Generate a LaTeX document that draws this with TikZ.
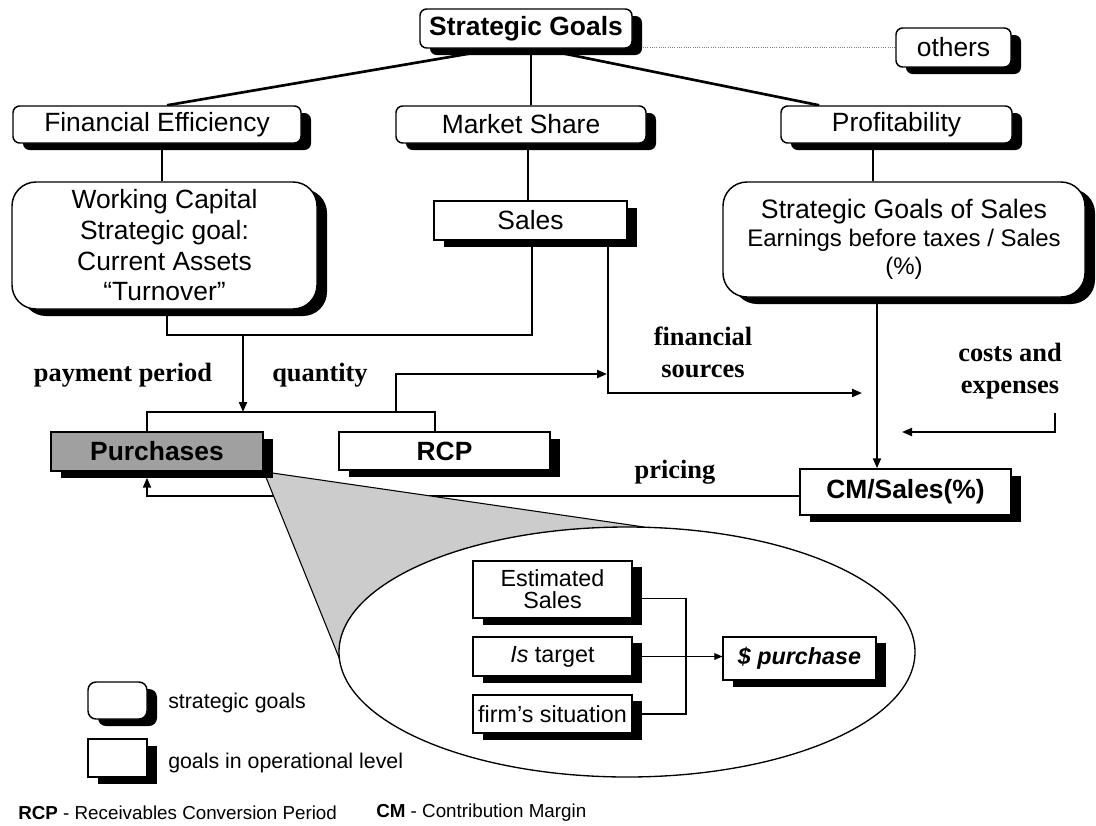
\documentclass[tikz,border=0pt]{standalone}
\usepackage{fontspec}
\setmainfont{Liberation Serif}
\setsansfont{Liberation Sans}
\usetikzlibrary{shadows,arrows.meta,calc,backgrounds}
\definecolor{purgray}{HTML}{A0A0A0}
\definecolor{fgray}{HTML}{CCCCCC}
\tikzset{
  shad/.style={drop shadow={shadow xshift=7.5pt,shadow yshift=-5.25pt,fill=black,opacity=1}},
  box/.style={draw, line width=1.1pt, fill=white, shad, inner sep=0pt, align=center, font=\sffamily\fontsize{19.8}{23}\selectfont},
  bbox/.style={box, font=\sffamily\bfseries\fontsize{19.8}{23}\selectfont},
  rbox/.style={box, rounded corners=5pt},
  bigr/.style={box, rounded corners=18pt},
  ibox/.style={box, line width=0.9pt, drop shadow={shadow xshift=7.5pt,shadow yshift=-4.5pt,fill=black,opacity=1}, font=\sffamily\fontsize{17.5}{16.5}\selectfont},
  conn/.style={line width=1.5pt},
  fineline/.style={line width=0.8pt},
  arr/.style={-{Triangle[length=7.5pt,width=6pt]}},
  lab/.style={font=\rmfamily\bfseries\fontsize{19.8}{24}\selectfont, align=center, inner sep=0pt},
  legtxt/.style={anchor=west, inner sep=0pt, font=\sffamily\fontsize{16}{18}\selectfont},
  foot/.style={anchor=west, inner sep=0pt, font=\sffamily\fontsize{14.1}{16}\selectfont},
}
\begin{document}
\begin{tikzpicture}[x=0.75pt,y=-0.75pt]
\useasboundingbox (0,0) rectangle (1096,825);

% top level
\node[rbox, font=\sffamily\bfseries\fontsize{19.8}{23}\selectfont, minimum width=159pt, minimum height=29.25pt] (sg) at (526,28.5) {Strategic Goals};
\node[rbox, minimum width=86.25pt, minimum height=29.25pt] (oth) at (953.5,47.5) {others};
\node[rbox, minimum width=216pt, minimum height=27.75pt] (fe) at (157,124.5) {Financial Efficiency};
\node[rbox, minimum width=187.5pt, minimum height=27.75pt] (ms) at (521,124.5) {Market Share};
\node[rbox, minimum width=173.25pt, minimum height=27.75pt] (prof) at (896.5,124.5) {Profitability};

% second level
\node[bigr, minimum width=228.75pt, minimum height=95.25pt] (wc) at (164.5,245.5) {Working Capital\\Strategic goal:\\Current Assets\\“Turnover”};
\node[box, minimum width=144.75pt, minimum height=29.25pt] (sales) at (530.5,220.5) {Sales};
\node[bigr, minimum width=271.5pt, minimum height=86.25pt, font=\sffamily\fontsize{18}{21}\selectfont] (sgs) at (904,239.5) {{\fontsize{20}{21}\selectfont Strategic Goals of Sales}\\Earnings before taxes / Sales\\(\%)};

% operational
\node[bbox, fill=purgray, minimum width=159pt, minimum height=29.25pt] (purch) at (157,451.5) {Purchases};
\node[bbox, minimum width=158.25pt, minimum height=28.5pt] (rcp) at (444.5,451) {RCP};
\node[bbox, minimum width=158.25pt, minimum height=34.5pt] (cm) at (905.5,492) {CM/Sales(\%)};

% labels
\node[lab] (lpp) at (123,375) {payment period};
\node[lab] (lq) at (320,375) {quantity};
\node[lab] (lfs) at (703,352) {financial\\sources};
\node[lab] (lce) at (1010,371) {costs and\\expenses};
\node[lab] (lpr) at (675,472) {pricing};

% inner boxes
\node[ibox, minimum width=119.25pt, minimum height=42.75pt] (es) at (552.5,589.5) {Estimated\\Sales};
\node[ibox, minimum width=119.25pt, minimum height=29.25pt] (ist) at (552.5,656.5) {\textit{Is} target};
\node[ibox, minimum width=119.25pt, minimum height=28.5pt] (firm) at (552.5,714) {firm’s situation};
\node[ibox, minimum width=114.75pt, minimum height=32.25pt, font=\sffamily\bfseries\itshape\fontsize{17.5}{15}\selectfont] (pur) at (799.5,658.5) {\$ purchase};

% legend
\node[box, rounded corners=6pt, minimum width=44.25pt, minimum height=27.75pt] (lg1) at (117.5,700.5) {};
\node[box, minimum width=44.25pt, minimum height=28.5pt] (lg2) at (117.5,758) {};
\node[legtxt] (lt1) at (168,703) {strategic goals};
\node[legtxt] (lt2) at (168,763) {goals in operational level};

% footer
\node[foot] (f1) at (18,813) {\textbf{RCP} - Receivables Conversion Period};
\node[foot] (f2) at (376,813) {\textbf{CM} - Contribution Margin};

\begin{pgfonlayer}{background}
  \draw[densely dotted, gray, line width=0.7pt] (oth.west) -- (oth.west -| sg.east);
  \draw[line width=2pt] ([xshift=-21pt]sg.south) -- ([xshift=7.5pt]fe.north);
  \draw[line width=2pt] ([xshift=3.75pt]sg.south) -- ([xshift=3.75pt]sg.south |- ms.north);
  \draw[line width=2pt] ([xshift=10.5pt]sg.south) -- ([xshift=-58pt]prof.north);
  \draw[conn] ([xshift=3.75pt]fe.south) -- ([xshift=3.75pt]fe.south |- wc.north);
  \draw[conn] ([xshift=5.25pt]ms.south) -- ([xshift=5.25pt]ms.south |- sales.north);
  \draw[conn] ([xshift=-17.6pt]prof.south) -- ([xshift=-17.6pt]prof.south |- sgs.north);
  \coordinate (split) at (243,335);
  \coordinate (brc) at (243,412);
  \draw[conn] ([xshift=2pt]wc.south) |- (split) -| ([xshift=1pt]sales.south);
  \draw[conn, arr] (split) -- (brc);
  \draw[conn] ([xshift=-7.5pt]purch.north) |- (brc) -| ([xshift=-7pt]rcp.north);
  \coordinate (q0) at (396,412);
  \coordinate (q1) at (607,374);
  \draw[conn, arr] (q0) |- (q1);
  \coordinate (fsx) at (862,393);
  \draw[conn, arr] ([xshift=-15pt]sales.south east) |- (fsx);
  \draw[conn, arr] ([xshift=-20.25pt]sgs.south) -- ([xshift=-20.25pt]sgs.south |- cm.north);
  \coordinate (c0) at (1055,413);
  \coordinate (c1) at (902,432);
  \draw[conn, arr] (c0) |- (c1);
  \draw[conn, arr] ([yshift=-3pt]cm.west) -| ([xshift=-7.5pt,yshift=-4.5pt]purch.south);
  % funnel and ellipse
  \coordinate (ec) at (627,652);
  \coordinate (ft) at (644,527);
  \coordinate (fl) at (340,660);
  \filldraw[fill=fgray, line width=0.8pt] (purch.south east) -- (ft) -- (ec) -- (fl) -- cycle;
  \filldraw[fill=white, line width=1pt] (ec) ellipse [x radius=216pt, y radius=93.75pt];
  \coordinate (jx) at (686,656);
  \draw[fineline] ([yshift=-7pt]es.east) -| (jx) |- (firm.east);
  \draw[fineline, -{Triangle[length=6pt,width=5pt]}] (ist.east) -- (ist.east -| pur.west);
\end{pgfonlayer}
\end{tikzpicture}
\end{document}
